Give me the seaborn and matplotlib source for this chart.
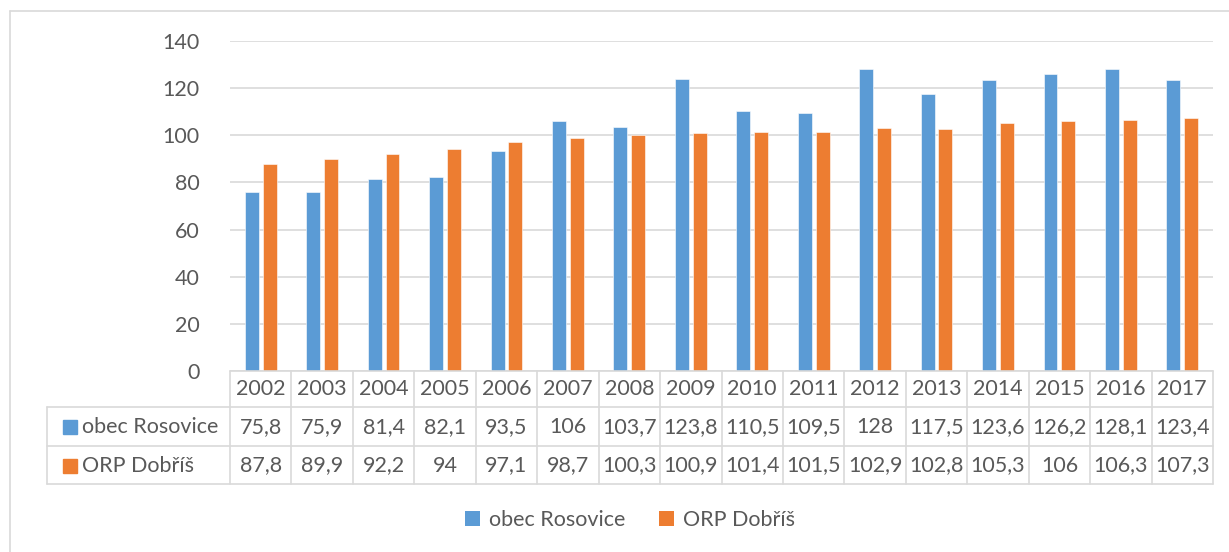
import matplotlib
matplotlib.use("Agg")
import matplotlib.pyplot as plt
import seaborn as sns
import pandas as pd
from matplotlib.lines import Line2D
from matplotlib.patches import Patch

years = ["2002", "2003", "2004", "2005", "2006", "2007", "2008", "2009",
         "2010", "2011", "2012", "2013", "2014", "2015", "2016", "2017"]
series_names = ["obec Rosovice", "ORP Dobříš"]
rosovice = [75.8, 75.9, 81.4, 82.1, 93.5, 106, 103.7, 123.8,
            110.5, 109.5, 128, 117.5, 123.6, 126.2, 128.1, 123.4]
dobris = [87.8, 89.9, 92.2, 94, 97.1, 98.7, 100.3, 100.9,
          101.4, 101.5, 102.9, 102.8, 105.3, 106, 106.3, 107.3]
yticks = [0, 20, 40, 60, 80, 100, 120, 140]

colors = ["#5B9BD5", "#ED7D31"]
txt = "#595959"
grid = "#D9D9D9"
FS = 15.5

df = pd.DataFrame({
    "year": years * 2,
    "value": rosovice + dobris,
    "series": [series_names[0]] * len(years) + [series_names[1]] * len(years),
})

sns.set_theme(style="white")
plt.rcParams["font.family"] = ["Lato", "DejaVu Sans"]

W, H = 1229, 552
fig = plt.figure(figsize=(W / 100, H / 100), dpi=100)

def fx(px):
    return px / W

def fy(py):
    return 1 - py / H

L, R, T, B = 230, 1213, 41, 371
ax = fig.add_axes([fx(L), fy(B), fx(R) - fx(L), fy(T) - fy(B)])

sns.barplot(data=df, x="year", y="value", hue="series", order=years,
            hue_order=series_names, palette=colors, width=0.58, gap=0.22,
            ax=ax, legend=False, saturation=1, edgecolor="white", linewidth=0.4)

ax.set_ylim(0, 140)
ax.set_xlim(-0.5, len(years) - 0.5)
ax.set_yticks(yticks)
ax.set_yticklabels([str(v) for v in yticks], fontsize=FS, color=txt)
ax.tick_params(axis="y", length=0, pad=22)
ax.set_xticks([])
ax.set_xlabel("")
ax.set_ylabel("")
for s in ax.spines.values():
    s.set_visible(False)
ax.yaxis.grid(True, color=grid, linewidth=1.2)
ax.set_axisbelow(True)

# data table
colw = (R - L) / len(years)
rows_y = [371, 407, 446, 484]
lc = dict(color=grid, linewidth=1.2)
fig.add_artist(Line2D([fx(L), fx(R)], [fy(371), fy(371)], **lc))
for yy in rows_y[1:]:
    fig.add_artist(Line2D([fx(47), fx(R)], [fy(yy), fy(yy)], **lc))
for i in range(len(years) + 1):
    xx = L + i * colw
    fig.add_artist(Line2D([fx(xx), fx(xx)], [fy(371), fy(484)], **lc))
fig.add_artist(Line2D([fx(47), fx(47)], [fy(407), fy(484)], **lc))

def fmt(v):
    return f"{v:g}".replace(".", ",")

for i, yr in enumerate(years):
    cx = L + (i + 0.5) * colw
    fig.text(fx(cx), fy(389), yr, ha="center", va="center", fontsize=FS, color=txt)
    fig.text(fx(cx), fy(427), fmt(rosovice[i]), ha="center", va="center", fontsize=FS, color=txt)
    fig.text(fx(cx), fy(465.5), fmt(dobris[i]), ha="center", va="center", fontsize=FS, color=txt)

for k, (name, c) in enumerate(zip(series_names, colors)):
    yy = 427 if k == 0 else 465.5
    fig.add_artist(Line2D([fx(70)], [fy(yy)], marker="s", markersize=10,
                          color=c, linestyle="none"))
    fig.text(fx(82), fy(yy), name, ha="left", va="center", fontsize=FS, color=txt)

# legend
handles = [Patch(facecolor=c, edgecolor="none") for c in colors]
fig.legend(handles, series_names, loc="center", bbox_to_anchor=(fx(630), fy(520)),
           ncol=2, frameon=False, fontsize=FS, handlelength=0.7, handleheight=0.7,
           handletextpad=0.4, columnspacing=1.6, labelcolor=txt)

# outer border
fig.add_artist(Line2D([fx(10), fx(10)], [fy(11), 0], color=grid, linewidth=1.2))
fig.add_artist(Line2D([fx(10), 1], [fy(11), fy(11)], color=grid, linewidth=1.2))

fig.savefig("out.png", dpi=100, facecolor="white")
